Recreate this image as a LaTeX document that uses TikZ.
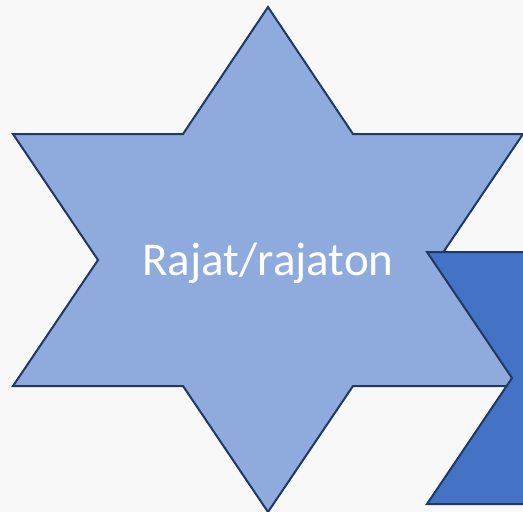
\documentclass[tikz,border=0pt]{standalone}
\usepackage{fontspec}
\setmainfont{Carlito}
\definecolor{bgc}{HTML}{F8F8F8}
\definecolor{lightfill}{HTML}{8FAADC}
\definecolor{darkfill}{HTML}{4472C4}
\definecolor{edgec}{HTML}{1F3864}
\tikzset{starshape/.style={draw=edgec, line width=2pt, line join=miter}}
\begin{document}
\begin{tikzpicture}[x=1pt,y=-1pt]
\fill[bgc] (0,0) rectangle (523,512);
\useasboundingbox (0,0) rectangle (523,512);
\clip (0,0) rectangle (523,512);
\draw[starshape, fill=lightfill] (268,7) -- (353,134) -- (523,134) -- (438,260) -- (523,386) -- (353,386) -- (268,512) -- (183,386) -- (13,386) -- (98,260) -- (13,134) -- (183,134) -- cycle;
\begin{scope}[shift={(414,118)}]
\draw[starshape, fill=darkfill] (268,7) -- (353,134) -- (523,134) -- (438,260) -- (523,386) -- (353,386) -- (268,512) -- (183,386) -- (13,386) -- (98,260) -- (13,134) -- (183,134) -- cycle;
\end{scope}
\node[text=white, font=\fontsize{47}{56}\selectfont, anchor=base, inner sep=0pt] (label) at (268,275) {Rajat/rajaton};
\end{tikzpicture}
\end{document}
